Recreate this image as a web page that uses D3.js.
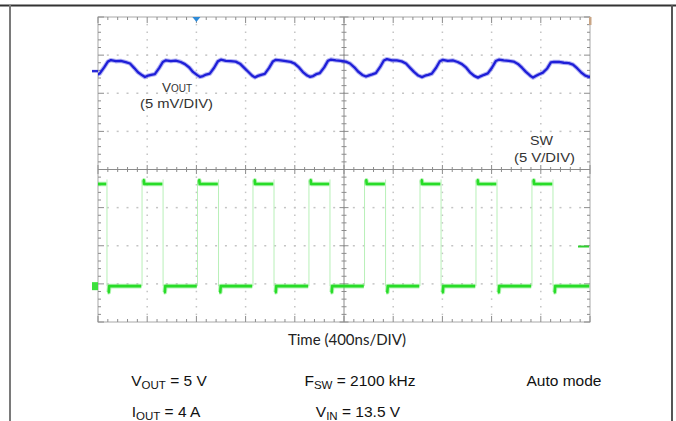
<!DOCTYPE html>
<html><head><meta charset="utf-8">
<script src="https://cdn.jsdelivr.net/npm/d3@7"></script>
<style>body{margin:0;background:#fff;overflow:hidden}svg{display:block}</style>
</head><body><svg id="c" width="676" height="421"></svg>
<script>
// ---- data (read from the scope capture) ----
const timeDomainNs = [-2000, 2000];          // 10 div x 400 ns/div
const divDomain = [-4, 4];                   // 8 vertical divisions
const voutScaleMvPerDiv = 5, voutOffsetDiv = 2.64;
const swScaleVPerDiv = 5, swOffsetDiv = -3.06;

const voutTimeNs = [
-2065,-2040,-2015,-1985,-1950,-1920,-1895,-1855,-1815,-1775,-1740,-1705,-1675,-1640,
-1618,-1593,-1568,-1538,-1503,-1473,-1448,-1408,-1368,-1328,-1293,-1258,-1228,-1193,
-1171,-1146,-1121,-1091,-1056,-1026,-1001,-961,-921,-881,-846,-811,-781,-746,
-724,-699,-674,-644,-609,-579,-554,-514,-474,-434,-399,-364,-334,-299,
-276,-251,-226,-196,-161,-131,-106,-66,-26,14,49,84,114,149,
179,204,229,259,294,324,349,389,429,469,504,539,569,604,
634,659,684,714,749,779,804,844,884,924,959,994,1024,1059,
1089,1114,1139,1169,1204,1234,1259,1299,1339,1379,1414,1449,1479,1514,
1537,1562,1587,1617,1652,1682,1707,1747,1787,1827,1862,1897,1927,1962,
1992,2010];
const voutRippleMv = [
-1.05,-0.90,-0.82,-0.60,0.20,0.95,1.15,1.00,1.05,0.88,0.70,0.10,-0.45,-0.85,
-1.08,-0.88,-0.80,-0.70,0.10,0.90,1.12,1.02,1.08,0.90,0.62,0.18,-0.40,-0.82,
-1.05,-0.95,-0.75,-0.62,0.15,0.98,1.20,1.05,1.00,0.95,0.68,0.12,-0.35,-0.90,
-1.12,-0.92,-0.78,-0.65,0.12,0.95,1.18,1.10,1.02,0.92,0.66,0.15,-0.42,-0.88,
-1.05,-0.95,-0.70,-0.55,0.20,1.05,1.22,1.12,1.05,0.95,0.70,0.20,-0.35,-0.80,
-1.00,-0.85,-0.72,-0.55,0.25,1.10,1.28,1.12,1.10,0.98,0.70,0.10,-0.40,-0.88,
-1.08,-0.90,-0.80,-0.62,0.15,1.00,1.18,1.05,1.10,0.90,0.62,0.15,-0.45,-0.92,
-1.15,-0.95,-0.78,-0.60,0.18,1.02,1.20,1.10,1.05,0.95,0.65,0.12,-0.40,-0.90,
-1.15,-0.92,-0.70,-0.50,0.05,0.85,0.92,0.90,0.80,0.75,0.55,0.05,-0.45,-0.90,
-1.05,-1.00];

const swRiseNs = [-1642,-1191,-740,-285,167,618,1073,1528];
const swFallNs = [-1927,-1471,-1020,-569,-114,338,789,1244,1699];
const swHighV = 13.4, swLowV = 0, swOvershootV = 0.5, swUndershootV = -0.8;

// ---- scales ----
const X0 = 98, X1 = 590, Y0 = 17, Y1 = 322;
const x = d3.scaleLinear().domain(timeDomainNs).range([X0, X1]);
const y = d3.scaleLinear().domain(divDomain).range([Y1, Y0]);
const yVout = mv => y(voutOffsetDiv + mv / voutScaleMvPerDiv);
const ySw = v => y(swOffsetDiv + v / swScaleVPerDiv);

const svg = d3.select("#c");

// outer frame of the figure
svg.append("line").attr("x1",0).attr("x2",676).attr("y1",5.5).attr("y2",5.5).attr("stroke","#333").attr("stroke-width",2);
svg.append("line").attr("x1",10).attr("x2",10).attr("y1",5).attr("y2",421).attr("stroke","#7a7a7a").attr("stroke-width",2);
svg.append("line").attr("x1",672).attr("x2",672).attr("y1",5).attr("y2",421).attr("stroke","#555").attr("stroke-width",2);

// ---- graticule ----
const g = svg.append("g");
const minorX = d3.range(timeDomainNs[0], timeDomainNs[1] + 1, 80);
const majorX = d3.range(timeDomainNs[0], timeDomainNs[1] + 1, 400);
const minorY = d3.range(-4, 4.001, 0.2).map(v => +v.toFixed(2));
const majorY = d3.range(-4, 4.001, 1);
const gridCol = "#c4c4c4", axCol = "#8c8c8c";

majorX.filter(t => t !== 0 && t !== timeDomainNs[0] && t !== timeDomainNs[1]).forEach(t => {
  minorY.slice(1, -1).forEach(d => {
    g.append("rect").attr("x", x(t) - 0.75).attr("y", y(d) - 0.75).attr("width",1.5).attr("height",1.5).attr("fill",gridCol);
  });
});
majorY.filter(d => d !== 0 && d !== -4 && d !== 4).forEach(d => {
  minorX.slice(1, -1).forEach(t => {
    g.append("rect").attr("x", x(t) - 1).attr("y", y(d) - 0.75).attr("width",2).attr("height",1.5).attr("fill",gridCol);
  });
});

g.append("rect").attr("x",X0).attr("y",Y0).attr("width",X1-X0).attr("height",Y1-Y0)
  .attr("fill","none").attr("stroke","#a8a8a8").attr("stroke-width",1);

const isMajX = t => t % 400 === 0;
const isMajY = d => Math.abs(d - Math.round(d)) < 1e-6;
minorX.forEach(t => {
  const L = isMajX(t) ? 6 : 3;
  g.append("line").attr("x1",x(t)).attr("x2",x(t)).attr("y1",Y0).attr("y2",Y0+L).attr("stroke",axCol);
  g.append("line").attr("x1",x(t)).attr("x2",x(t)).attr("y1",Y1).attr("y2",Y1-L).attr("stroke",axCol);
});
minorY.forEach(d => {
  const L = isMajY(d) ? 6 : 3;
  g.append("line").attr("y1",y(d)).attr("y2",y(d)).attr("x1",X0).attr("x2",X0+L).attr("stroke",axCol);
  g.append("line").attr("y1",y(d)).attr("y2",y(d)).attr("x1",X1).attr("x2",X1-L).attr("stroke",axCol);
});
g.append("line").attr("x1",X0).attr("x2",X1).attr("y1",y(0)).attr("y2",y(0)).attr("stroke",axCol);
g.append("line").attr("x1",x(0)).attr("x2",x(0)).attr("y1",Y0).attr("y2",Y1).attr("stroke",axCol);
minorX.forEach(t => {
  const L = isMajX(t) ? 4.5 : 2.5;
  g.append("line").attr("x1",x(t)).attr("x2",x(t)).attr("y1",y(0)-L).attr("y2",y(0)+L).attr("stroke",axCol);
});
minorY.forEach(d => {
  const L = isMajY(d) ? 4.5 : 2.5;
  g.append("line").attr("y1",y(d)).attr("y2",y(d)).attr("x1",x(0)-L).attr("x2",x(0)+L).attr("stroke",axCol);
});

svg.append("clipPath").attr("id","plot").append("rect").attr("x",X0).attr("y",Y0-2).attr("width",X1-X0).attr("height",Y1-Y0+4);

// ---- SW trace ----
const edges = swRiseNs.map(t => ({t, type:"rise"})).concat(swFallNs.map(t => ({t, type:"fall"}))).sort((a,b) => a.t - b.t);
const segs = [];
let prevT = timeDomainNs[0], prevLevel = edges[0].type === "fall" ? swHighV : swLowV, first = true;
edges.forEach(e => {
  segs.push({a: prevT, b: e.t, level: prevLevel, hook: !first});
  prevT = e.t; prevLevel = e.type === "rise" ? swHighV : swLowV; first = false;
});
segs.push({a: prevT, b: timeDomainNs[1], level: prevLevel, hook: true});

const sw = svg.append("g").attr("clip-path","url(#plot)");
edges.forEach(e => {
  sw.append("line").attr("x1",x(e.t)).attr("x2",x(e.t)).attr("y1",ySw(swLowV)).attr("y2",ySw(swHighV + 0.6))
    .attr("stroke","#b8f0b8").attr("stroke-width",1);
});
const line = d3.line().x(d => x(d[0])).y(d => ySw(d[1]));
segs.forEach(s => {
  const pts = [];
  if (s.hook) {
    const ex = s.level === swHighV ? swOvershootV : swUndershootV;
    pts.push([s.a + 6, s.level + ex], [s.a + 14, s.level + ex], [s.a + 18, s.level]);
  } else pts.push([s.a, s.level]);
  pts.push([s.b - 6, s.level]);
  const d = line(pts);
  sw.append("path").attr("d", d).attr("fill","none").attr("stroke","#55e855").attr("stroke-opacity",0.45).attr("stroke-width",4.6).attr("stroke-linejoin","round");
  sw.append("path").attr("d", d).attr("fill","none").attr("stroke","#28dc28").attr("stroke-width",2.6).attr("stroke-linejoin","round");
});

// ---- VOUT trace ----
const vout = voutTimeNs.map((t, i) => [t, voutRippleMv[i]]);
const vd = d3.line().x(d => x(d[0])).y(d => yVout(d[1]))(vout);
svg.append("path").attr("clip-path","url(#plot)").attr("d", vd)
  .attr("fill","none").attr("stroke","#4040e0").attr("stroke-opacity",0.4).attr("stroke-width",4.4).attr("stroke-linejoin","round");
svg.append("path").attr("clip-path","url(#plot)").attr("d", vd)
  .attr("fill","none").attr("stroke","#1e1ed8").attr("stroke-width",2.3).attr("stroke-linejoin","round");

// ---- markers ----
svg.append("line").attr("x1",92).attr("x2",X0).attr("y1",yVout(-0.3)).attr("y2",yVout(-0.3)).attr("stroke","#2a2ad8").attr("stroke-width",2.5);
svg.append("rect").attr("x",92).attr("y",ySw(0)-4).attr("width",6).attr("height",8).attr("fill","#3ee03e");
svg.append("line").attr("x1",578).attr("x2",589).attr("y1",ySw(5.2)).attr("y2",ySw(5.2)).attr("stroke","#2fd02f").attr("stroke-width",2);
svg.append("path").attr("d",`M${x(-1200)-4},${Y0} L${x(-1200)+4},${Y0} L${x(-1200)},${Y0+5} Z`).attr("fill","#2d8ad8");
svg.append("rect").attr("x",X1-1).attr("y",Y0).attr("width",2.5).attr("height",8).attr("fill","#c9a585");

// ---- in-scope labels ----
const lab = svg.append("g").attr("font-family","Liberation Sans, Arial, sans-serif").attr("fill","#333");
const t1 = lab.append("text").attr("x",177).attr("y",92).attr("text-anchor","middle").attr("font-size",13.5);
t1.append("tspan").text("V");
t1.append("tspan").attr("font-size",10).text("OUT");
lab.append("text").attr("x",140).attr("y",108).attr("font-size",12.5).attr("textLength",73).attr("lengthAdjust","spacingAndGlyphs").text("(5 mV/DIV)");
lab.append("text").attr("x",530).attr("y",145).attr("font-size",12.5).attr("textLength",23).attr("lengthAdjust","spacingAndGlyphs").text("SW");
lab.append("text").attr("x",514).attr("y",162).attr("font-size",12.5).attr("textLength",61).attr("lengthAdjust","spacingAndGlyphs").text("(5 V/DIV)");

// ---- axis title ----
svg.append("text").attr("x",347).attr("y",345).attr("text-anchor","middle").attr("font-family","Lato, sans-serif")
  .attr("font-size",15).attr("fill","#222").text("Time (400ns/DIV)");

// ---- conditions ----
const cond = svg.append("g").attr("font-family","Liberation Sans, Arial, sans-serif").attr("font-size",15.5).attr("fill","#111").attr("text-anchor","middle");
function subText(cx, cy, main, sub, rest) {
  const t = cond.append("text").attr("x",cx).attr("y",cy);
  t.append("tspan").text(main);
  if (sub) t.append("tspan").attr("font-size",11.5).attr("dy",3).text(sub);
  t.append("tspan").attr("dy", sub ? -3 : 0).text(rest);
}
subText(169, 386, "V", "OUT", " = 5 V");
subText(360, 386, "F", "SW", " = 2100 kHz");
subText(564, 386, "Auto mode", null, "");
subText(166, 417, "I", "OUT", " = 4 A");
subText(358, 417, "V", "IN", " = 13.5 V");
</script></body></html>
